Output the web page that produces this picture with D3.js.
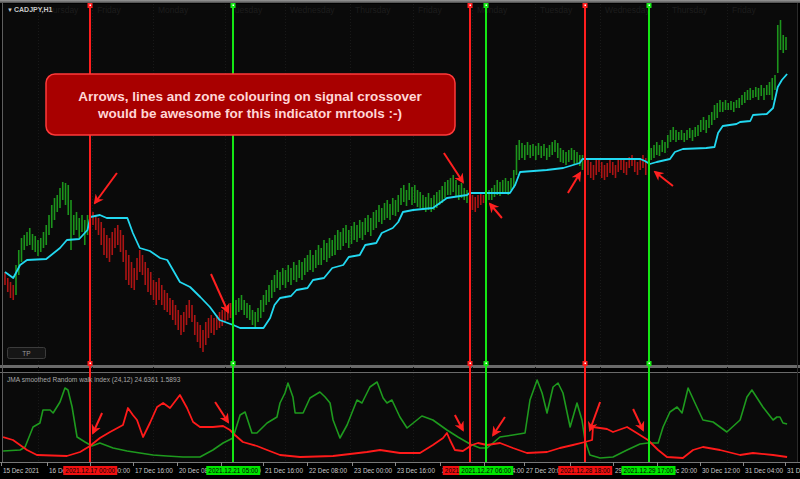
<!DOCTYPE html>
<html><head><meta charset="utf-8">
<script src="https://cdn.jsdelivr.net/npm/d3@7"></script>
<style>html,body{margin:0;padding:0;background:#000;overflow:hidden}</style>
</head><body><svg id="c" width="800" height="479"></svg>
<script>
// ---------- DATA ----------
const symbolLabel = "CADJPY,H1";
const indicatorLabel = "JMA smoothed Random walk index (24,12) 24.6361 1.5893";
// hourly bar highs / lows (price)
const barHigh = [
87.33,87.27,87.23,87.20,87.40,87.55,87.67,87.70,87.73,87.77,
87.71,87.69,87.65,87.67,87.73,87.80,87.90,88.00,88.07,88.10,
88.17,88.23,88.22,88.20,88.05,87.90,87.93,87.87,87.90,87.85,
87.90,87.95,87.93,87.90,87.87,87.83,87.77,87.70,87.67,87.73,
87.77,87.80,87.75,87.70,87.55,87.50,87.43,87.37,87.47,87.55,
87.50,87.43,87.37,87.33,87.25,87.23,87.27,87.20,87.15,87.12,
87.07,87.05,87.00,86.95,86.90,86.93,87.00,87.05,87.00,86.90,
86.83,86.80,86.75,86.83,86.87,86.90,86.87,86.90,86.93,86.95,
86.97,87.00,87.02,87.00,87.05,87.07,87.10,87.05,87.02,87.00,
86.95,86.93,86.97,87.05,87.10,87.15,87.20,87.25,87.30,87.35,
87.33,87.37,87.35,87.40,87.37,87.43,87.40,87.45,87.43,87.47,
87.50,87.55,87.50,87.55,87.60,87.57,87.65,87.62,87.67,87.65,
87.70,87.75,87.73,87.77,87.80,87.75,87.79,87.83,87.80,87.85,
87.83,87.87,87.90,87.87,87.93,87.95,88.00,87.97,88.02,88.05,
88.01,88.07,88.05,88.10,88.17,88.20,88.15,88.22,88.18,88.20,
88.15,88.13,88.10,88.08,88.12,88.07,88.10,88.13,88.15,88.19,
88.23,88.25,88.27,88.30,88.25,88.20,88.22,88.17,88.15,88.12,
88.10,88.08,88.10,88.12,88.10,88.13,88.15,88.17,88.20,88.25,
88.23,88.25,88.27,88.24,88.27,88.35,88.60,88.65,88.62,88.60,
88.63,88.60,88.61,88.59,88.62,88.59,88.61,88.57,88.60,88.63,
88.65,88.62,88.57,88.55,88.53,88.55,88.57,88.55,88.53,88.50,
88.50,88.47,88.45,88.43,88.40,88.45,88.47,88.43,88.40,88.42,
88.45,88.43,88.40,88.45,88.47,88.45,88.43,88.48,88.50,88.45,
88.43,88.47,88.50,88.47,88.55,88.57,88.60,88.63,88.60,88.65,
88.63,88.70,88.75,88.78,88.75,88.73,88.75,88.72,88.75,88.77,
88.75,88.78,88.80,88.85,88.88,88.85,88.90,88.93,89.00,89.02,
89.05,89.03,89.05,89.02,89.04,89.03,89.05,89.07,89.10,89.13,
89.15,89.17,89.15,89.18,89.17,89.20,89.17,89.20,89.23,89.27,
89.30,89.80,89.85,89.70,89.68];
const barLow = [
87.20,87.13,87.07,87.05,87.10,87.30,87.43,87.55,87.59,87.60,
87.55,87.53,87.49,87.53,87.57,87.60,87.70,87.77,87.85,87.93,
87.97,88.05,88.00,87.90,87.55,87.70,87.75,87.67,87.73,87.60,
87.70,87.77,87.80,87.75,87.70,87.60,87.50,87.47,87.43,87.50,
87.57,87.60,87.53,87.43,87.25,87.20,87.17,87.15,87.25,87.33,
87.30,87.20,87.13,87.10,87.05,87.00,87.05,87.00,86.95,86.93,
86.90,86.85,86.80,86.75,86.70,86.73,86.80,86.87,86.83,86.70,
86.63,86.57,86.53,86.60,86.67,86.72,86.70,86.75,86.77,86.79,
86.83,86.85,86.87,86.85,86.90,86.93,86.95,86.90,86.87,86.85,
86.80,86.77,86.83,86.87,86.93,87.00,87.03,87.07,87.13,87.17,
87.15,87.20,87.17,87.23,87.20,87.25,87.23,87.27,87.25,87.30,
87.33,87.35,87.33,87.37,87.40,87.40,87.45,87.43,87.47,87.49,
87.50,87.55,87.55,87.59,87.62,87.57,87.61,87.65,87.63,87.67,
87.65,87.70,87.73,87.69,87.75,87.77,87.83,87.81,87.85,87.87,
87.85,87.90,87.89,87.93,88.00,88.03,87.99,88.05,88.00,88.02,
87.98,87.97,87.95,87.93,87.95,87.93,87.95,87.97,88.00,88.02,
88.07,88.10,88.10,88.13,88.09,88.05,88.07,88.05,88.02,88.00,
87.95,87.93,87.97,88.00,88.02,88.03,88.05,88.05,88.08,88.10,
88.09,88.12,88.13,88.10,88.15,88.17,88.30,88.45,88.47,88.45,
88.50,88.47,88.49,88.45,88.50,88.47,88.49,88.45,88.48,88.50,
88.53,88.47,88.43,88.42,88.40,88.43,88.45,88.41,88.42,88.39,
88.35,88.33,88.30,88.27,88.25,88.30,88.33,88.27,88.25,88.28,
88.32,88.30,88.27,88.33,88.35,88.32,88.30,88.37,88.39,88.33,
88.30,88.35,88.37,88.30,88.43,88.45,88.47,88.50,88.49,88.53,
88.52,88.57,88.63,88.65,88.63,88.65,88.65,88.63,88.65,88.67,
88.64,88.68,88.69,88.73,88.75,88.72,88.77,88.80,88.85,88.87,
88.93,88.93,88.95,88.95,88.95,88.93,88.97,88.97,89.00,89.02,
89.05,89.05,89.07,89.08,89.05,89.09,89.05,89.10,89.10,89.05,
89.15,89.32,89.55,89.52,89.55];
// trend zones (bar index where a zone starts, and its direction)
const zoneStarts = [0, 4, 31, 83, 169, 175, 211, 234];
const zoneTrend  = ["down","up","down","up","down","up","down","up"];
// marked signal crossovers
const signalBars   = [31, 83, 169, 175, 211, 234];
const signalTrend  = ["down","up","down","up","down","up"];
const signalLabels = ["2021.12.17 00:00","2021.12.21 05:00","2021.12.27 00:00","2021.12.27 06:00","2021.12.28 18:00","2021.12.29 17:00"];
// cyan baseline (vertex bar index, price)
const baseBars = [0,3,5.5,8,15,20,22.5,27,30,31,34.5,37,44.5,46.5,49,52.7,56.4,59,63.6,67.3,71,74.5,78,83,85.5,94,96.4,98,100,104,106,110,112,116,119,123,125,129,131,135,137,141,143,144.7,148.4,155.6,160.7,168,169,183.6,185.5,187.3,197,203,209,210,231,232.7,234.5,237,241.8,243.6,246.5,255,258,259.3,261,266,267.3,271,272,277,279.3,281,282.5,284.4];
const baseValues = [87.33,87.27,87.40,87.45,87.46,87.57,87.65,87.66,87.75,87.88,87.90,87.87,87.87,87.72,87.57,87.54,87.47,87.45,87.23,87.18,87.08,86.98,86.85,86.80,86.77,86.77,86.87,87.00,87.07,87.09,87.15,87.17,87.25,87.27,87.37,87.40,87.48,87.50,87.60,87.62,87.72,87.77,87.83,87.93,87.95,87.97,88.07,88.10,88.12,88.12,88.20,88.33,88.35,88.37,88.42,88.46,88.46,88.44,88.41,88.43,88.46,88.53,88.56,88.57,88.58,88.72,88.79,88.81,88.83,88.84,88.90,88.91,88.97,89.18,89.25,89.31];
// lower pane: green (up) and red (down) RWI lines
const rwiGreenBars = [-0.7,5.5,7.3,10.2,12.7,13.8,16.4,17.5,20,21.8,22.9,24.4,26.2,29.1,31.6,34.5,39.3,44.4,49.1,53.8,58.9,64.7,70.9,75.6,79.3,82.9,85.5,87.3,89.8,91.6,95.3,98.9,100,101.8,102.9,104.7,105.5,108.4,110.9,112.7,114.5,116.4,118.2,119.3,121.8,124.4,128,129.8,132.7,135.3,137.5,138.9,140.7,143.6,146.2,151.6,155.6,160.7,164.7,169.1,172.7,175.3,180,184.7,189.1,190.9,193.5,195.3,197.1,199.3,201.1,202.9,205.5,208,209.8,210.9,212.7,216.4,221.1,226.2,230.9,233.8,237.5,239.3,241.8,244.4,246.2,248.4,250.9,253.8,257.5,262.5,267.3,269.8,271.6,275.6,279.3,280.7,281.8,282.9,284.4];
const rwiGreenValues = [0.45,0.50,0.65,1.65,1.85,2.50,2.50,2.35,2.90,3.60,3.50,2.65,1.15,0.90,0.70,0.85,0.60,0.45,0.35,0.25,0.20,0.15,0.15,0.50,0.85,1.10,2.25,2.40,1.35,1.35,1.85,2.15,2.85,3.35,3.85,3.15,2.35,2.35,3.10,3.25,3.40,3.15,2.85,2.00,1.10,1.75,3.00,2.85,3.65,3.90,3.10,2.85,3.00,2.15,1.60,2.20,2.00,1.50,1.15,0.80,0.60,0.60,1.15,1.25,1.35,3.00,4.00,3.35,2.35,3.65,3.85,3.35,1.65,2.85,2.00,1.00,0.25,0.10,0.15,0.50,0.80,0.85,0.85,1.65,2.40,2.65,2.35,3.60,2.85,2.00,1.90,1.40,2.00,3.15,3.50,2.65,2.00,2.15,2.15,1.85,1.80];
const rwiRedBars = [-0.7,2.9,8,11.6,22.5,27.3,30.9,34.5,38.2,42.9,44.7,46.5,48,50.2,52.7,55.3,57.5,60,63.6,66.2,68.4,70.9,75.6,79.3,81.8,83.6,86.5,91.6,95.3,100,107.3,119.3,131.6,136.4,143.6,150.9,155.6,159.3,160.7,161.8,163.6,166.5,169.8,172,175.3,180,184.7,189.8,197.1,201.8,206.5,210.9,213.5,213.8,218.9,221.1,226.2,230.9,233.8,237.5,240.7,246.5,250.2,253.8,260,267.3,272,279.3,284.4];
const rwiRedValues = [1.15,1.00,0.50,0.25,0.20,0.40,0.70,1.10,1.40,1.75,2.60,2.25,2.00,1.15,1.85,2.65,2.85,2.60,3.25,2.60,1.90,1.65,1.65,1.70,1.50,1.25,0.90,0.70,0.50,0.25,0.15,0.20,0.40,0.50,0.35,0.35,0.75,1.10,1.35,1.00,0.50,0.45,0.75,0.85,0.75,0.85,0.60,0.35,0.40,0.60,0.75,0.90,1.00,1.65,1.55,1.40,1.65,1.25,1.00,0.50,0.15,0.10,0.50,0.65,0.50,0.25,0.35,0.25,0.15];
// time axis
const tickBars = [-1.5,15.3,30.9,46.5,62.5,78.5,93.8,109.8,126.2,141.8,158.2,174.2,188.7,205.5,221.1,237.1,252.7,268.4,283.6];
const tickLabels = ["15 Dec 2021","16 Dec 08:00","17 Dec 00:00","17 Dec 16:00","20 Dec 08:00","21 Dec 00:00","21 Dec 16:00","22 Dec 08:00","23 Dec 00:00","23 Dec 16:00","24 Dec 08:00","27 Dec 04:00","27 Dec 20:00","28 Dec 12:00","29 Dec 04:00","29 Dec 20:00","30 Dec 12:00","31 Dec 04:00","31 Dec 20:00"];
const dayBars = [13.8,33.5,55.6,81.8,103.6,127.3,150.2,171.6,194.5,218.2,242.5,264.4];
const dayNames = ["Thursday","Friday","Monday","Tuesday","Wednesday","Thursday","Friday","Monday","Tuesday","Wednesday","Thursday","Friday"];
// annotation arrows (tail -> tip) in data units
const priceArrowTailBar = [40.7,74.9,159.6,180.7,204.7,242.9];
const priceArrowTailVal = [88.32,87.31,88.52,87.87,88.12,88.19];
const priceArrowTipBar  = [32.7,81.1,166.5,176.4,209.1,236.4];
const priceArrowTipVal  = [88.02,86.93,88.23,88.01,88.32,88.33];
const rwiArrowTailBar = [35.3,76.4,163.6,181.8,216.4,228.4];
const rwiArrowTailVal = [2.35,2.9,2.25,2.15,2.9,2.55];
const rwiArrowTipBar  = [32,81.1,166.5,177.5,212.7,232];
const rwiArrowTipVal  = [1.35,1.9,1.5,1.25,1.5,1.5];
const noteLines = ["Arrows, lines and zone colouring on signal crossover","would be awesome for this indicator mrtools :-)"];

// ---------- DRAW ----------
const FONT = "'Liberation Sans', Arial, sans-serif";
const C = {bg:"#0a0a0a", frame:"#5e5e5e", up:"#1c941c", dn:"#ac1414", base:"#22d8f0",
  sigDn:"#ff1e1e", sigUp:"#14e614", rwiG:"#1e9a1e", rwiR:"#ff1a1a", arrow:"#ff2020"};
const svg = d3.select("#c");
const x = d3.scaleLinear().domain([0,284]).range([5,786]);
const yMain = d3.scaleLinear().domain([86.40,90.00]).range([365,5]);
const yLow  = d3.scaleLinear().domain([0,4.5]).range([460,370]);
const trendAt = i => zoneTrend[d3.bisectRight(zoneStarts,i)-1];

const defs = svg.append("defs");
const g0 = defs.append("linearGradient").attr("id","topbar").attr("x1",0).attr("x2",0).attr("y1",0).attr("y2",1);
g0.append("stop").attr("offset","0").attr("stop-color","#9a9a9a");
g0.append("stop").attr("offset","1").attr("stop-color","#4a4a4a");
defs.append("clipPath").attr("id","clipMain").append("rect").attr("x",3).attr("y",4).attr("width",794).attr("height",361);
defs.append("clipPath").attr("id","clipLow").append("rect").attr("x",3).attr("y",373).attr("width",794).attr("height",89);
defs.append("marker").attr("id","ah").attr("viewBox","0 0 10 10").attr("refX",8).attr("refY",5)
  .attr("markerWidth",10).attr("markerHeight",10).attr("markerUnits","userSpaceOnUse").attr("orient","auto")
  .append("path").attr("d","M0,0 L10,5 L0,10 L3,5 Z").attr("fill",C.arrow);

svg.append("rect").attr("width",800).attr("height",479).attr("fill","#000");
svg.append("rect").attr("x",0).attr("y",0).attr("width",800).attr("height",3).attr("fill","url(#topbar)");
// panes
svg.append("rect").attr("x",3).attr("y",4).attr("width",794).attr("height",361).attr("fill",C.bg);
svg.append("rect").attr("x",3).attr("y",373).attr("width",794).attr("height",89).attr("fill",C.bg);
svg.append("rect").attr("x",0).attr("y",365).attr("width",800).attr("height",3).attr("fill","#6a6a6a");
svg.append("line").attr("x1",0).attr("x2",800).attr("y1",372.5).attr("y2",372.5).attr("stroke","#6a6a6a");
svg.append("line").attr("x1",2.5).attr("x2",2.5).attr("y1",3).attr("y2",462).attr("stroke",C.frame);
svg.append("line").attr("x1",797.5).attr("x2",797.5).attr("y1",3).attr("y2",462).attr("stroke","#2a2a2a");
svg.append("line").attr("x1",0).attr("x2",800).attr("y1",462.5).attr("y2",462.5).attr("stroke","#777");

// faint grid
const grid = svg.append("g").attr("stroke","#191919").attr("stroke-dasharray","1,2");
grid.selectAll("line.v").data(dayBars).join("line").attr("x1",d=>Math.round(x(d))-4.5).attr("x2",d=>Math.round(x(d))-4.5)
  .attr("y1",4).attr("y2",462);
// day names
svg.append("g").selectAll("text").data(dayBars).join("text")
  .attr("x",d=>x(d)).attr("y",13).attr("font-family",FONT).attr("font-size",8.5).attr("fill","#1d1d1d")
  .text((d,i)=>dayNames[i]);

// candles
const main = svg.append("g").attr("clip-path","url(#clipMain)");
main.append("g").selectAll("rect").data(barHigh).join("rect")
  .attr("x",(d,i)=>x(i)-0.8).attr("width",1.6)
  .attr("y",d=>yMain(d)).attr("height",(d,i)=>Math.max(1,yMain(barLow[i])-yMain(d)))
  .attr("fill",(d,i)=>trendAt(i)==="up"?C.up:C.dn);
// baseline
main.append("path").datum(d3.zip(baseBars,baseValues))
  .attr("d",d3.line().x(d=>x(d[0])).y(d=>yMain(d[1])))
  .attr("fill","none").attr("stroke",C.base).attr("stroke-width",1.8).attr("stroke-linejoin","round");

// lower pane lines
const low = svg.append("g").attr("clip-path","url(#clipLow)");
low.append("path").datum(d3.zip(rwiGreenBars,rwiGreenValues))
  .attr("d",d3.line().x(d=>x(d[0])).y(d=>yLow(d[1])))
  .attr("fill","none").attr("stroke",C.rwiG).attr("stroke-width",1.6).attr("stroke-linejoin","round");
low.append("path").datum(d3.zip(rwiRedBars,rwiRedValues))
  .attr("d",d3.line().x(d=>x(d[0])).y(d=>yLow(d[1])))
  .attr("fill","none").attr("stroke",C.rwiR).attr("stroke-width",1.8).attr("stroke-linejoin","round");

// signal vertical lines
const sig = svg.append("g");
signalBars.forEach((b,i)=>{
  const xx = Math.round(x(b));
  const col = signalTrend[i]==="up"?C.sigUp:C.sigDn;
  sig.append("rect").attr("x",xx-1).attr("y",4).attr("width",2).attr("height",458).attr("fill",col);
  [3,361].forEach(yy=>{
    sig.append("rect").attr("x",xx-2.5).attr("y",yy).attr("width",5).attr("height",5).attr("fill",col);
    sig.append("rect").attr("x",xx-0.5).attr("y",yy+1.5).attr("width",1.5).attr("height",1.5).attr("fill","#fff");
  });
});

// arrows
const arrows = svg.append("g").attr("stroke",C.arrow).attr("stroke-width",2).attr("marker-end","url(#ah)");
priceArrowTailBar.forEach((b,i)=>{
  arrows.append("line").attr("x1",x(b)).attr("y1",yMain(priceArrowTailVal[i]))
    .attr("x2",x(priceArrowTipBar[i])).attr("y2",yMain(priceArrowTipVal[i]));
});
rwiArrowTailBar.forEach((b,i)=>{
  arrows.append("line").attr("x1",x(b)).attr("y1",yLow(rwiArrowTailVal[i]))
    .attr("x2",x(rwiArrowTipBar[i])).attr("y2",yLow(rwiArrowTipVal[i]));
});

// note box
const note = svg.append("g");
note.append("rect").attr("x",46).attr("y",74).attr("width",409).attr("height",61).attr("rx",9)
  .attr("fill","#a80000").attr("stroke","#ff3a3a").attr("stroke-width",1.5);
note.selectAll("text").data(noteLines).join("text")
  .attr("x",250).attr("y",(d,i)=>101+i*17).attr("text-anchor","middle")
  .attr("font-family",FONT).attr("font-weight","bold").attr("font-size",13.5).attr("fill","#ffd6d6").text(d=>d);

// labels
svg.append("text").attr("x",7).attr("y",11.5).attr("font-family",FONT).attr("font-size",6).attr("fill","#c8c8c8").text("\u25BC");
svg.append("text").attr("x",14).attr("y",11.5).attr("font-family",FONT).attr("font-size",7).attr("font-weight","bold").attr("fill","#c8c8c8").text(symbolLabel);
svg.append("text").attr("x",7).attr("y",382).attr("font-family",FONT).attr("font-size",6.6).attr("fill","#a8a8a8").text(indicatorLabel);
const tp = svg.append("g");
tp.append("rect").attr("x",7.5).attr("y",347.5).attr("width",38).attr("height",11).attr("rx",2).attr("fill","#161616").attr("stroke","#3c3c3c");
tp.append("text").attr("x",26.5).attr("y",355.5).attr("text-anchor","middle").attr("font-family",FONT).attr("font-size",6.5).attr("fill","#9a9a9a").text("TP");

// time axis
const ax = svg.append("g");
ax.selectAll("line").data(tickBars).join("line").attr("x1",d=>Math.round(x(d))+0.5).attr("x2",d=>Math.round(x(d))+0.5)
  .attr("y1",462).attr("y2",466).attr("stroke","#888");
ax.selectAll("text").data(tickBars).join("text").attr("x",d=>x(d)+2).attr("y",473)
  .attr("font-family",FONT).attr("font-size",6.4).attr("fill","#c8c8c8").text((d,i)=>tickLabels[i]);
signalBars.forEach((b,i)=>{
  const xx = x(b);
  ax.append("rect").attr("x",xx-27).attr("y",466).attr("width",54).attr("height",9)
    .attr("fill",signalTrend[i]==="up"?"#00e600":"#f01010");
  ax.append("text").attr("x",xx).attr("y",473).attr("text-anchor","middle")
    .attr("font-family",FONT).attr("font-size",6.4).attr("fill","#000").text(signalLabels[i]);
});
</script></body></html>
